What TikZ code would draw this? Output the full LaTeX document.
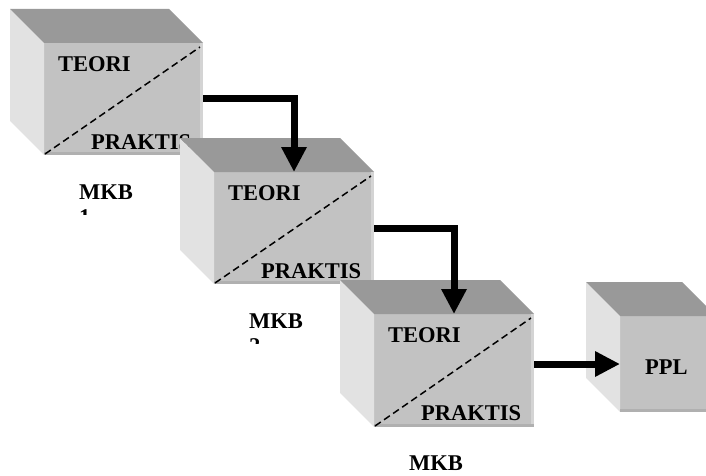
\documentclass[tikz,border=0pt]{standalone}
\usepackage{fontspec}
\setmainfont{Liberation Serif}
\usetikzlibrary{arrows.meta,calc}

\definecolor{faceF}{HTML}{C2C2C2}
\definecolor{faceT}{HTML}{999999}
\definecolor{faceL}{HTML}{E2E2E2}
\definecolor{edgeR}{HTML}{D4D4D4}
\definecolor{edgeB}{HTML}{B0B0B0}

\tikzset{
  front/.style={fill=faceF, draw=none, inner sep=0pt, outer sep=0pt, anchor=north west},
  lbl/.style={font=\bfseries\fontsize{22.5}{24}\selectfont, inner sep=0pt, anchor=west},
  lblbase/.style={font=\bfseries\fontsize{22.5}{24}\selectfont, inner sep=0pt, anchor=base west},
  flow/.style={line width=7pt, line join=miter, -{Triangle[length=25pt,width=24pt]}},
  diag/.style={dash pattern=on 7pt off 4pt, line width=1.5pt},
}

% a shaded cube: name, front x, front y, width, height, depth
\newcommand\cubebox[6]{%
  \node[front, minimum width=#4pt, minimum height=#5pt] (#1) at (#2,#3) {};
  \fill[faceL] (#1.north west) -- ++(-#6pt,#6pt)
     -- ($(#1.south west)+(-#6pt,#6pt)$) -- (#1.south west) -- cycle;
  \fill[faceT] (#1.north west) -- ++(-#6pt,#6pt)
     -- ($(#1.north east)+(-#6pt,#6pt)$) -- (#1.north east) -- cycle;
  \fill[edgeR] ($(#1.north east)+(-3pt,0pt)$) rectangle (#1.south east);
  \fill[edgeB] ($(#1.south west)+(0pt,3pt)$) rectangle (#1.south east);
}

% split face: dashed diagonal with TEORI / PRAKTIS
\newcommand\splitface[1]{%
  \draw[diag] ($(#1.south west)+(1pt,1pt)$) -- ($(#1.north east)+(-3pt,-4pt)$);
  \node[lbl] (#1-t) at ($(#1.north west)+(14pt,-21pt)$) {TEORI};
  \node[lbl] (#1-p) at ($(#1.north west)+(47pt,-99pt)$) {PRAKTIS};
}

\begin{document}
\begin{tikzpicture}[x=1pt,y=-1pt]
  \useasboundingbox (0,0) rectangle (706,476);
  \clip (0,0) rectangle (706,476);

  % stage 1
  \cubebox{f1}{44}{43}{159}{112}{34}
  \splitface{f1}
  \node[lblbase] (m1) at ($(f1.north west)+(35pt,-156.5pt)$) {MKB};
  \begin{scope}
    \clip ($(f1.north west)+(20pt,-160pt)$) rectangle ($(f1.north west)+(80pt,-171pt)$);
    \node[lblbase] (n1) at ($(f1.north west)+(35pt,-181pt)$) {1};
  \end{scope}

  % stage 2
  \cubebox{f2}{214}{172}{160}{112}{34}
  \splitface{f2}
  \node[lblbase] (m2) at ($(f2.north west)+(35pt,-156.5pt)$) {MKB};
  \begin{scope}
    \clip ($(f2.north west)+(20pt,-160pt)$) rectangle ($(f2.north west)+(80pt,-171pt)$);
    \node[lblbase] (n2) at ($(f2.north west)+(35pt,-181pt)$) {2};
  \end{scope}

  % stage 3
  \cubebox{f3}{374}{314}{160}{113}{34}
  \splitface{f3}
  \node[lblbase] (m3) at ($(f3.north west)+(35pt,-156.5pt)$) {MKB};

  % final block
  \cubebox{ppl}{620}{316}{96}{96}{34}
  \node[lbl] (pplt) at ($(ppl.north west)+(25pt,-51pt)$) {PPL};

  % flow arrows
  \draw[flow] (f1.east) -| (f2.north);
  \draw[flow] (f2.east) -| (f3.north);
  \draw[flow] (f3.east |- ppl.west) -- (ppl.west);
\end{tikzpicture}
\end{document}
